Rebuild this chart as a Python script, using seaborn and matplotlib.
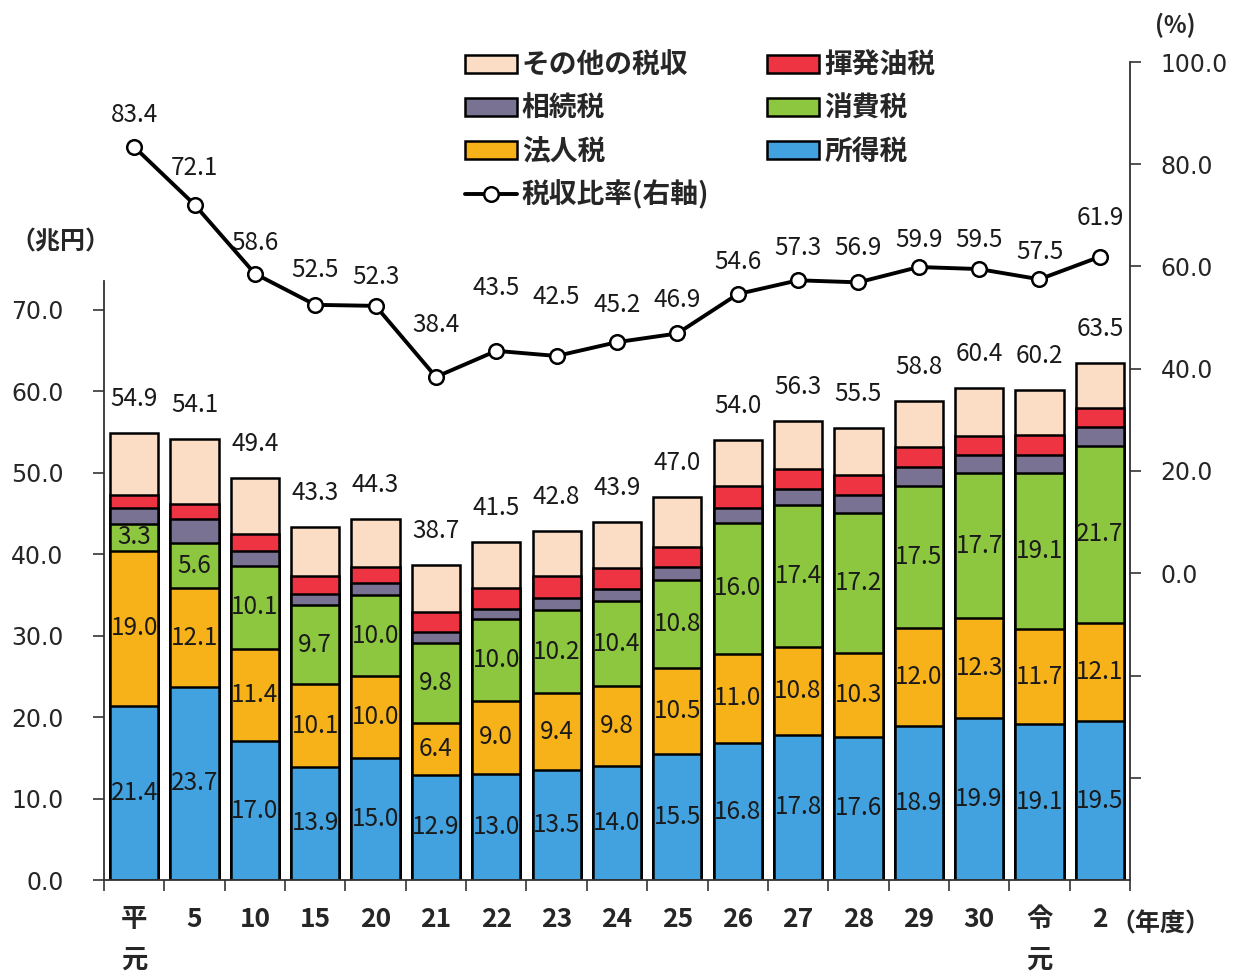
import numpy as np
import pandas as pd
import matplotlib
matplotlib.use("Agg")
import matplotlib.pyplot as plt
from matplotlib.patches import Patch
from matplotlib.lines import Line2D
from matplotlib.ticker import FixedLocator
import seaborn as sns

# ---- data (兆円 / %) ----
years = ["平\n元", "5", "10", "15", "20", "21", "22", "23", "24", "25",
         "26", "27", "28", "29", "30", "令\n元", "2"]
income_tax = [21.4, 23.7, 17.0, 13.9, 15.0, 12.9, 13.0, 13.5, 14.0, 15.5,
              16.8, 17.8, 17.6, 18.9, 19.9, 19.1, 19.5]
corporate_tax = [19.0, 12.1, 11.4, 10.1, 10.0, 6.4, 9.0, 9.4, 9.8, 10.5,
                 11.0, 10.8, 10.3, 12.0, 12.3, 11.7, 12.1]
consumption_tax = [3.3, 5.6, 10.1, 9.7, 10.0, 9.8, 10.0, 10.2, 10.4, 10.8,
                   16.0, 17.4, 17.2, 17.5, 17.7, 19.1, 21.7]
inheritance_tax = [2.0, 2.9, 1.9, 1.4, 1.4, 1.3, 1.3, 1.5, 1.5, 1.6,
                   1.9, 2.0, 2.2, 2.3, 2.3, 2.3, 2.3]
gasoline_tax = [1.5, 1.9, 2.1, 2.2, 2.0, 2.5, 2.6, 2.7, 2.6, 2.5,
                2.6, 2.4, 2.4, 2.5, 2.3, 2.4, 2.3]
other_tax = [7.7, 7.9, 6.9, 6.0, 5.9, 5.8, 5.6, 5.5, 5.6, 6.1,
             5.7, 5.9, 5.8, 5.6, 5.9, 5.6, 5.6]
tax_ratio = [83.4, 72.1, 58.6, 52.5, 52.3, 38.4, 43.5, 42.5, 45.2, 46.9,
             54.6, 57.3, 56.9, 59.9, 59.5, 57.5, 61.9]

# ---- styling ----
layers = [
    ("所得税", income_tax, "#42A2DF", True),
    ("法人税", corporate_tax, "#F8B219", True),
    ("消費税", consumption_tax, "#8DC63F", True),
    ("相続税", inheritance_tax, "#7A7292", False),
    ("揮発油税", gasoline_tax, "#EE3442", False),
    ("その他の税収", other_tax, "#FBDDC6", False),
]
# vertical offsets (px) of the ratio labels above their markers
ratio_label_dy = [32, 37, 31, 35, 29, 52, 63, 59, 37, 33, 32, 32, 34, 27, 29, 27, 39]

sns.set_theme(style="ticks")
plt.rcParams["font.family"] = ["Noto Sans CJK JP", "DejaVu Sans"]
NUM_FS = 17.5      # value labels
TICK_FS = 17       # axis numbers
TICK_FONT = "DejaVu Sans"
EDGE_LW = 1.8

fig = plt.figure(figsize=(12.35, 9.73), dpi=100)
ax = fig.add_axes([104 / 1235, 93 / 973, 1026 / 1235, 818 / 973])

n = len(years)
df = pd.DataFrame({"year": years})
bottoms = np.zeros(n)
stack_tops = []
for name, vals, col, _ in layers:
    bottoms = bottoms + np.array(vals)
    stack_tops.append(bottoms.copy())

# draw cumulative bars from the top layer down so every segment is visible
for (name, vals, col, _), top in reversed(list(zip(layers, stack_tops))):
    df["h"] = top
    sns.barplot(data=df, x="year", y="h", color=col, edgecolor="black",
                linewidth=EDGE_LW, width=0.8, saturation=1, ax=ax, order=years)

# segment labels for the three main taxes
base = np.zeros(n)
for name, vals, col, show in layers:
    vals = np.array(vals)
    if show:
        for i in range(n):
            ax.text(i, base[i] + vals[i] / 2, f"{vals[i]:.1f}", ha="center",
                    va="center", fontsize=NUM_FS, color="#1a1a1a")
    base = base + vals

# totals above the bars
for i in range(n):
    ax.annotate(f"{base[i]:.1f}", (i, base[i]), xytext=(0, 34 * 0.72),
                textcoords="offset points", ha="center", va="center",
                fontsize=NUM_FS, color="#1a1a1a")

ax.set_xlim(-0.5, n - 0.5)
ax.set_ylim(0, 100.4)
ax.set_yticks(np.arange(0, 71, 10))
ax.set_yticklabels([f"{v:.1f}" for v in np.arange(0, 71, 10)],
                   fontsize=TICK_FS, family=TICK_FONT)
ax.set_xlabel("")
ax.set_ylabel("")
ax.set_xticks(range(n))
ax.set_xticklabels(years, fontsize=19, fontweight="bold", linespacing=1.65)
ax.xaxis.set_minor_locator(FixedLocator(np.arange(-0.5, n, 1.0)))
ax.tick_params(axis="x", which="major", length=0, pad=19)
ax.tick_params(axis="x", which="minor", length=8, width=1.2, direction="out",
               color="#333333")
ax.tick_params(axis="y", length=8, width=1.2, direction="out", pad=21,
               color="#333333")
for s in ("top", "right"):
    ax.spines[s].set_visible(False)
ax.spines["left"].set_bounds(0, 73.5)
for s in ("left", "bottom"):
    ax.spines[s].set_linewidth(1.3)
    ax.spines[s].set_color("#333333")

# tax-revenue ratio on the right axis
ax2 = ax.twinx()
sns.lineplot(x=np.arange(n), y=tax_ratio, ax=ax2, color="black", linewidth=2.8,
             marker="o", markersize=10.5, markerfacecolor="white",
             markeredgecolor="black", markeredgewidth=1.8, zorder=5)
for i, v in enumerate(tax_ratio):
    ax2.annotate(f"{v:.1f}", (i, v), xytext=(0, ratio_label_dy[i] * 0.72),
                 textcoords="offset points", ha="center", va="center",
                 fontsize=NUM_FS, color="#1a1a1a")
ax2.set_ylim(-60, 100)
rticks = np.arange(-40, 101, 20)
ax2.set_yticks(rticks)
ax2.set_yticklabels([f"{v:.1f}" if v >= 0 else "" for v in rticks],
                    fontsize=TICK_FS, family=TICK_FONT)
ax2.tick_params(axis="y", length=8, width=1.2, direction="out", pad=14,
                color="#333333")
for s in ("top", "left", "bottom"):
    ax2.spines[s].set_visible(False)
ax2.spines["right"].set_linewidth(1.3)
ax2.spines["right"].set_color("#333333")
ax2.set_xlim(-0.5, n - 0.5)

# unit captions
fig.text(60 / 1235, 1 - 242 / 973, "（兆円）", ha="center", va="center",
         fontsize=18, fontweight="bold")
fig.text(1175 / 1235, 1 - 25 / 973, "(%)", ha="center", va="center",
         fontsize=17, fontweight="bold")
fig.text(1160 / 1235, 1 - 924 / 973, "（年度）", ha="center", va="center",
         fontsize=18, fontweight="bold")

# legend
lut = {name: col for name, _, col, _ in layers}
def box(name):
    return Patch(facecolor=lut[name], edgecolor="black", linewidth=EDGE_LW)
handles = [box("その他の税収"), box("相続税"), box("法人税"),
           Line2D([], [], color="black", linewidth=2.8, marker="o",
                  markersize=10.5, markerfacecolor="white",
                  markeredgecolor="black", markeredgewidth=1.8),
           box("揮発油税"), box("消費税"), box("所得税")]
labels = ["その他の税収", "相続税", "法人税", "税収比率(右軸)",
          "揮発油税", "消費税", "所得税"]
fig.legend(handles, labels, ncol=2, loc="upper left",
           bbox_to_anchor=(465 / 1235, 1 - 52 / 973),
           bbox_transform=fig.transFigure, frameon=False, borderpad=0,
           borderaxespad=0, handlelength=1.87, handleheight=0.62,
           handletextpad=0.18, labelspacing=0.53, columnspacing=2.08,
           prop={"size": 20, "weight": "bold"})

fig.savefig("out.png", dpi=100, facecolor="white")
